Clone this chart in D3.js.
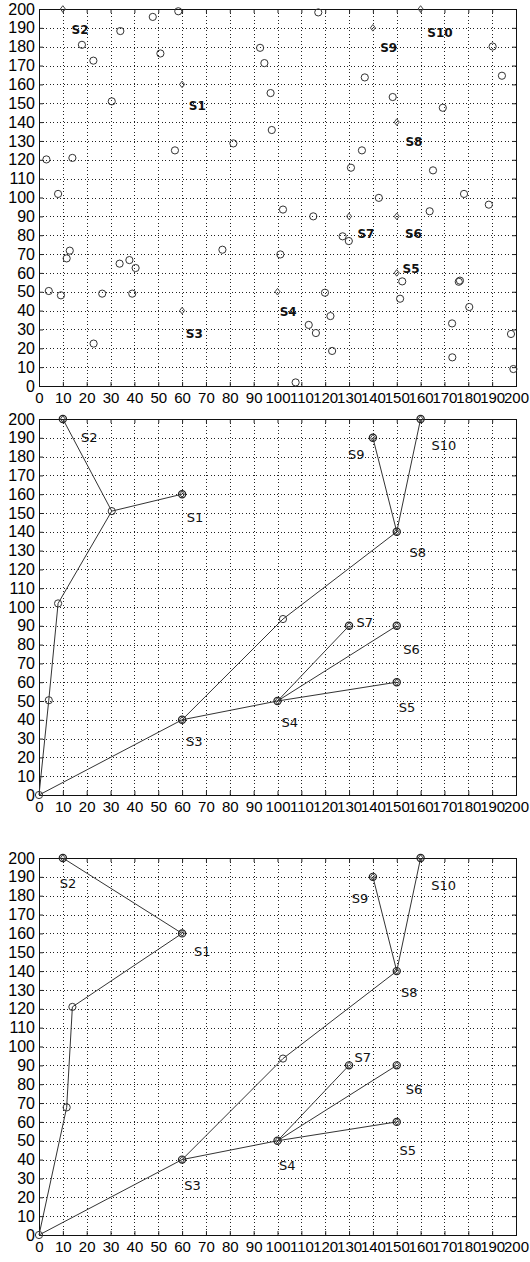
<!DOCTYPE html>
<html>
<head>
<meta charset="utf-8">
<script src="https://cdn.jsdelivr.net/npm/d3@7/dist/d3.min.js"></script>
<style>
  html, body { margin: 0; padding: 0; background: #fff; }
  svg { display: block; }
</style>
</head>
<body>
<svg id="chart" width="530" height="1262"></svg>
<script>
// ---- axis ticks ----
const xTicks = d3.range(0, 201, 10);
const yTicks = d3.range(0, 201, 10);

// ---- sink nodes ----
const sinkNames = ["S1", "S2", "S3", "S4", "S5", "S6", "S7", "S8", "S9", "S10"];
const sinkX = [60, 10, 60, 100, 150, 150, 130, 150, 140, 160];
const sinkY = [160, 200, 40, 50, 60, 90, 90, 140, 190, 200];

// ---- deployed sensor nodes ----
const nodeX = [18.0, 22.8, 30.5, 34.1, 47.7, 58.4, 50.9, 57.0, 81.5, 92.7,
               94.5, 97.1, 97.6, 3.1, 14.0, 8.0, 117.1, 190.2, 194.1, 136.6,
               148.3, 169.3, 135.4, 130.8, 165.2, 142.5, 178.2, 12.9, 11.6, 4.1,
               9.2, 22.9, 26.5, 33.8, 37.9, 40.5, 39.1, 76.9, 188.6, 102.3,
               115.0, 163.8, 127.3, 129.9, 101.2, 152.3, 176.0, 176.5, 119.9, 151.4,
               180.4, 122.2, 113.1, 116.1, 173.2, 197.9, 122.9, 173.3, 198.9, 107.6];
const nodeY = [181.0, 172.6, 151.0, 188.3, 195.8, 198.8, 176.4, 125.0, 128.7, 179.4,
               171.3, 155.4, 135.8, 120.2, 121.0, 101.9, 198.2, 180.1, 164.6, 163.7,
               153.3, 147.6, 125.0, 115.8, 114.4, 99.8, 101.9, 71.8, 67.7, 50.4,
               48.1, 22.5, 49.0, 64.9, 66.8, 62.6, 49.0, 72.3, 96.2, 93.6,
               90.0, 92.7, 79.4, 76.9, 69.8, 55.5, 55.3, 55.9, 49.5, 46.3,
               41.9, 37.1, 32.4, 28.1, 33.2, 27.6, 18.6, 15.2, 9.0, 1.9];

// ---- label anchors (data units) for each panel ----
const labelX1 = [66.4, 17.2, 65.1, 104.5, 156.0, 157.0, 137.1, 157.2, 146.6, 168.1];
const labelY1 = [148.9, 189.0, 27.9, 39.6, 62.2, 81.0, 81.0, 129.8, 179.5, 187.4];
const labelX2 = [65.4, 21.1, 65.1, 105.1, 154.3, 156.2, 136.6, 158.8, 133.0, 169.8];
const labelY2 = [147.7, 190.2, 28.7, 38.5, 46.8, 77.5, 91.9, 129.1, 181.2, 186.2];
const labelX3 = [68.5, 12.2, 64.4, 104.1, 154.6, 157.2, 135.8, 155.3, 134.6, 169.7];
const labelY3 = [150.4, 186.4, 26.2, 37.0, 45.1, 77.5, 94.1, 129.0, 178.4, 185.3];

// ---- routing trees: relay nodes and links ----
const relayNames2 = ["O", "R1", "R2", "R3", "R4"];
const relayX2 = [0, 4.1, 8.0, 30.5, 102.3];
const relayY2 = [0, 50.4, 101.9, 151.0, 93.6];
const links2 = [["O", "R1"], ["R1", "R2"], ["R2", "R3"], ["R3", "S1"], ["R3", "S2"],
                ["O", "S3"], ["S3", "R4"], ["R4", "S8"], ["S8", "S9"], ["S8", "S10"],
                ["S3", "S4"], ["S4", "S5"], ["S4", "S6"], ["S4", "S7"]];

const relayNames3 = ["O", "R1", "R2", "R4"];
const relayX3 = [0, 11.6, 14.0, 102.3];
const relayY3 = [0, 67.7, 121.0, 93.6];
const links3 = [["O", "R1"], ["R1", "R2"], ["R2", "S1"], ["S1", "S2"],
                ["O", "S3"], ["S3", "R4"], ["R4", "S8"], ["S8", "S9"], ["S8", "S10"],
                ["S3", "S4"], ["S4", "S5"], ["S4", "S6"], ["S4", "S7"]];

// ---- drawing ----
const svg = d3.select("#chart");
const left = 39, right = 516;
const panels = [
  { top: 9, bottom: 386 },
  { top: 419, bottom: 795 },
  { top: 858, bottom: 1235 }
];

function diamond(g, cx, cy, rx, ry) {
  g.append("path")
    .attr("d", `M${cx},${cy - ry}L${cx + rx},${cy}L${cx},${cy + ry}L${cx - rx},${cy}Z`)
    .attr("fill", "none")
    .attr("stroke", "#444")
    .attr("stroke-width", 1);
}

function frame(p) {
  const x = d3.scaleLinear().domain([0, 200]).range([left, right]);
  const y = d3.scaleLinear().domain([0, 200]).range([p.bottom, p.top]);
  const g = svg.append("g");

  // dotted grid
  const grid = g.append("g").attr("stroke", "#222").attr("stroke-width", 1)
    .attr("stroke-dasharray", "1,2.5").attr("shape-rendering", "crispEdges");
  xTicks.filter(v => v > 0 && v < 200).forEach(v => {
    grid.append("line").attr("x1", Math.round(x(v)) + 0.5).attr("x2", Math.round(x(v)) + 0.5)
      .attr("y1", p.top).attr("y2", p.bottom);
  });
  yTicks.filter(v => v > 0 && v < 200).forEach(v => {
    grid.append("line").attr("y1", Math.round(y(v)) + 0.5).attr("y2", Math.round(y(v)) + 0.5)
      .attr("x1", left).attr("x2", right);
  });

  // axes with inward ticks
  const bottomAx = g.append("g").attr("transform", `translate(0,${p.bottom})`)
    .call(d3.axisBottom(x).tickValues(xTicks).tickFormat(d3.format("d")).tickSize(-4).tickPadding(6));
  const leftAx = g.append("g").attr("transform", `translate(${left},0)`)
    .call(d3.axisLeft(y).tickValues(yTicks).tickFormat(d3.format("d")).tickSize(-4).tickPadding(4));
  const topAx = g.append("g").attr("transform", `translate(0,${p.top})`)
    .call(d3.axisTop(x).tickValues(xTicks).tickFormat("").tickSize(-4));
  const rightAx = g.append("g").attr("transform", `translate(${right},0)`)
    .call(d3.axisRight(y).tickValues(yTicks).tickFormat("").tickSize(-4));
  [bottomAx, leftAx, topAx, rightAx].forEach(a => {
    a.select(".domain").remove();
    a.selectAll("line").attr("stroke", "#222");
    a.selectAll("text")
      .attr("font-family", "'Liberation Sans', Arial, sans-serif")
      .attr("font-size", 15).attr("fill", "#000");
  });
  leftAx.selectAll("text").attr("font-size", 16);

  // box
  g.append("rect").attr("x", left + 0.5).attr("y", p.top + 0.5)
    .attr("width", right - left).attr("height", p.bottom - p.top)
    .attr("fill", "none").attr("stroke", "#111").attr("stroke-width", 1)
    .attr("shape-rendering", "crispEdges");
  return { g, x, y };
}

// Panel 1: deployment
(function () {
  const { g, x, y } = frame(panels[0]);
  nodeX.forEach((vx, i) => {
    g.append("circle").attr("cx", x(vx)).attr("cy", y(nodeY[i])).attr("r", 3.6)
      .attr("fill", "none").attr("stroke", "#333").attr("stroke-width", 1);
  });
  sinkX.forEach((vx, i) => diamond(g, x(vx), y(sinkY[i]), 2.5, 3.3));
  sinkNames.forEach((n, i) => {
    g.append("text").attr("x", x(labelX1[i])).attr("y", y(labelY1[i]))
      .attr("text-anchor", "middle").attr("dy", "0.36em")
      .attr("font-family", "'DejaVu Sans', sans-serif").attr("font-weight", "bold")
      .attr("font-size", 12).attr("fill", "#111").text(n);
  });
})();

// Panels 2 and 3: routing trees
function treePanel(p, relayNames, relayX, relayY, links, labelX, labelY) {
  const { g, x, y } = frame(p);
  const pos = {};
  sinkNames.forEach((n, i) => pos[n] = [sinkX[i], sinkY[i]]);
  relayNames.forEach((n, i) => pos[n] = [relayX[i], relayY[i]]);
  links.forEach(([a, b]) => {
    g.append("line").attr("x1", x(pos[a][0])).attr("y1", y(pos[a][1]))
      .attr("x2", x(pos[b][0])).attr("y2", y(pos[b][1]))
      .attr("stroke", "#333").attr("stroke-width", 1);
  });
  relayNames.forEach((n, i) => {
    g.append("circle").attr("cx", x(relayX[i])).attr("cy", y(relayY[i])).attr("r", 3.6)
      .attr("fill", "none").attr("stroke", "#333").attr("stroke-width", 1);
  });
  sinkNames.forEach((n, i) => {
    g.append("circle").attr("cx", x(sinkX[i])).attr("cy", y(sinkY[i])).attr("r", 3.6)
      .attr("fill", "none").attr("stroke", "#222").attr("stroke-width", 1.2);
    diamond(g, x(sinkX[i]), y(sinkY[i]), 2.4, 3.2);
  });
  sinkNames.forEach((n, i) => {
    g.append("text").attr("x", x(labelX[i])).attr("y", y(labelY[i]))
      .attr("text-anchor", "middle").attr("dy", "0.36em")
      .attr("font-family", "'DejaVu Sans', sans-serif")
      .attr("font-size", 13).attr("fill", "#111").text(n);
  });
}

treePanel(panels[1], relayNames2, relayX2, relayY2, links2, labelX2, labelY2);
treePanel(panels[2], relayNames3, relayX3, relayY3, links3, labelX3, labelY3);
</script>
</body>
</html>
